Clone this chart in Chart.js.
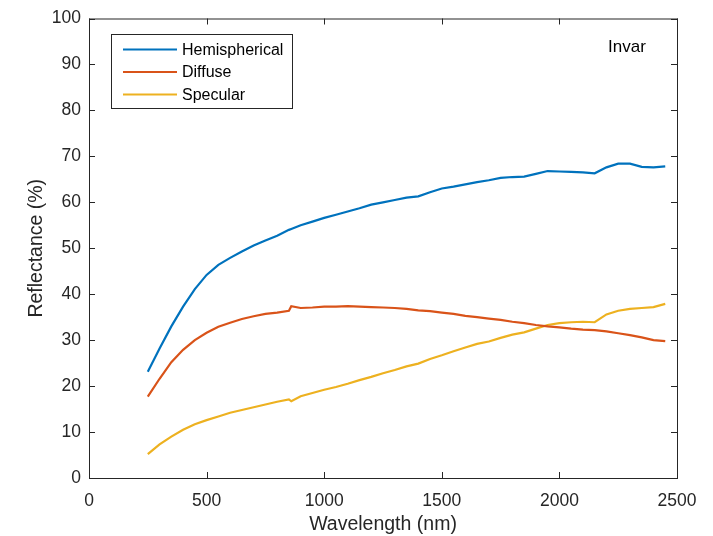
<!DOCTYPE html>
<html>
<head>
<meta charset="utf-8">
<script src="https://cdn.jsdelivr.net/npm/chart.js@4"></script>
<style>
  body { margin: 0; background: #fff; }
  #wrap { width: 713px; height: 536px; }
</style>
</head>
<body>
<div id="wrap"><canvas id="chart" width="713" height="536"></canvas></div>
<script>
const wavelength = [250, 300, 350, 400, 450, 500, 550, 600, 650, 700, 750, 800, 850, 860, 900, 950,
  1000, 1050, 1100, 1150, 1200, 1250, 1300, 1350, 1400, 1450, 1500, 1550, 1600, 1650, 1700, 1750,
  1800, 1850, 1900, 1950, 2000, 2050, 2100, 2150, 2200, 2250, 2300, 2350, 2400, 2450];

const hemispherical = [23.1, 28.2, 33.0, 37.3, 41.1, 44.2, 46.4, 47.9, 49.3, 50.6, 51.7, 52.7, 54.0, 54.2, 55.0, 55.8,
  56.6, 57.3, 58.0, 58.7, 59.5, 60.0, 60.5, 61.0, 61.3, 62.2, 63.0, 63.4, 63.9, 64.4, 64.8, 65.3,
  65.5, 65.6, 66.2, 66.8, 66.7, 66.6, 66.5, 66.3, 67.6, 68.4, 68.4, 67.7, 67.6, 67.8];

const diffuse = [17.7, 21.6, 25.2, 27.9, 30.0, 31.6, 32.9, 33.8, 34.6, 35.2, 35.7, 36.0, 36.4, 37.4, 37.0, 37.1,
  37.3, 37.3, 37.4, 37.3, 37.2, 37.1, 37.0, 36.8, 36.5, 36.3, 36.0, 35.7, 35.3, 35.0, 34.7, 34.4,
  34.0, 33.7, 33.3, 33.0, 32.8, 32.5, 32.3, 32.2, 31.9, 31.5, 31.1, 30.6, 30.0, 29.8];

const specular = [5.2, 7.3, 9.0, 10.5, 11.7, 12.6, 13.4, 14.2, 14.8, 15.4, 16.0, 16.6, 17.1, 16.7, 17.8, 18.5,
  19.2, 19.8, 20.5, 21.3, 22.0, 22.8, 23.5, 24.3, 24.9, 25.9, 26.7, 27.6, 28.4, 29.2, 29.7, 30.5,
  31.2, 31.7, 32.5, 33.3, 33.7, 33.9, 34.0, 33.9, 35.6, 36.4, 36.8, 37.0, 37.2, 37.9];

const seriesNames = ["Hemispherical", "Diffuse", "Specular"];
const seriesColors = ["#0072BD", "#D95319", "#EDB120"];
const xTicks = [0, 500, 1000, 1500, 2000, 2500];
const yTicks = [0, 10, 20, 30, 40, 50, 60, 70, 80, 90, 100];

const FONT = "'Liberation Sans', Arial, sans-serif";
const AXIS_COLOR = "#262626";

const toPoints = (ys) => wavelength.map((x, i) => ({ x: x, y: ys[i] }));

// box, inward ticks, legend and annotation, like the MATLAB figure
const matlabFrame = {
  id: "matlabFrame",
  afterDraw(chart) {
    const ctx = chart.ctx;
    const area = chart.chartArea;
    const xs = chart.scales.x;
    const ys = chart.scales.y;
    const len = 6;

    ctx.save();
    ctx.strokeStyle = AXIS_COLOR;
    ctx.lineWidth = 1;
    ctx.strokeRect(area.left + 0.5, area.top + 0.5, area.right - area.left, area.bottom - area.top);

    ctx.beginPath();
    xTicks.forEach((v) => {
      const px = Math.round(xs.getPixelForValue(v)) + 0.5;
      ctx.moveTo(px, area.bottom); ctx.lineTo(px, area.bottom - len);
      ctx.moveTo(px, area.top); ctx.lineTo(px, area.top + len);
    });
    yTicks.forEach((v) => {
      const py = Math.round(ys.getPixelForValue(v)) + 0.5;
      ctx.moveTo(area.left, py); ctx.lineTo(area.left + len, py);
      ctx.moveTo(area.right, py); ctx.lineTo(area.right - len, py);
    });
    ctx.stroke();

    // legend
    const lx = 111, ly = 34, lw = 181, lh = 74;
    ctx.fillStyle = "#fff";
    ctx.fillRect(lx, ly, lw, lh);
    ctx.strokeStyle = "#262626";
    ctx.strokeRect(lx + 0.5, ly + 0.5, lw, lh);
    ctx.font = "16px " + FONT;
    ctx.textBaseline = "middle";
    chart.data.datasets.forEach((ds, i) => {
      const ry = ly + 15.5 + i * 22.5;
      ctx.strokeStyle = ds.borderColor;
      ctx.lineWidth = 2.2;
      ctx.beginPath();
      ctx.moveTo(lx + 12, ry); ctx.lineTo(lx + 66, ry);
      ctx.stroke();
      ctx.fillStyle = "#000";
      ctx.fillText(ds.label, lx + 71, ry + 1);
    });

    ctx.fillStyle = "#000";
    ctx.font = "17px " + FONT;
    ctx.fillText("Invar", 608, 47);
    ctx.restore();
  }
};

const chart = new Chart(document.getElementById("chart").getContext("2d"), {
  type: "line",
  data: {
    datasets: [hemispherical, diffuse, specular].map((ys, i) => ({
      label: seriesNames[i],
      data: toPoints(ys),
      borderColor: seriesColors[i],
      backgroundColor: seriesColors[i],
      borderWidth: 2.2,
      pointRadius: 0,
      tension: 0
    }))
  },
  options: {
    responsive: false,
    animation: false,
    layout: { padding: { top: 15, right: 36, left: 20, bottom: 0 } },
    plugins: { legend: { display: false }, tooltip: { enabled: false } },
    scales: {
      x: {
        type: "linear",
        min: 0, max: 2500,
        afterBuildTicks: (s) => { s.ticks = xTicks.map((v) => ({ value: v })); },
        afterFit: (s) => { s.height = 58; },
        grid: { display: false, drawTicks: false },
        border: { display: false },
        ticks: { color: AXIS_COLOR, font: { family: FONT, size: 17.5 }, padding: 13, maxRotation: 0, callback: (v) => String(v) },
        title: { display: true, text: "Wavelength (nm)", color: AXIS_COLOR, font: { family: FONT, size: 19.5 }, padding: { top: 0, bottom: 0 } }
      },
      y: {
        min: 0, max: 100,
        afterBuildTicks: (s) => { s.ticks = yTicks.map((v) => ({ value: v })); },
        afterFit: (s) => { s.width = 69; },
        grid: { display: false, drawTicks: false },
        border: { display: false },
        ticks: { color: AXIS_COLOR, font: { family: FONT, size: 17.5 }, padding: 8, callback: (v) => String(v) },
        title: { display: true, text: "Reflectance (%)", color: AXIS_COLOR, font: { family: FONT, size: 19.5 }, padding: { top: 5, bottom: 0 } }
      }
    }
  },
  plugins: [matlabFrame]
});
</script>
</body>
</html>
